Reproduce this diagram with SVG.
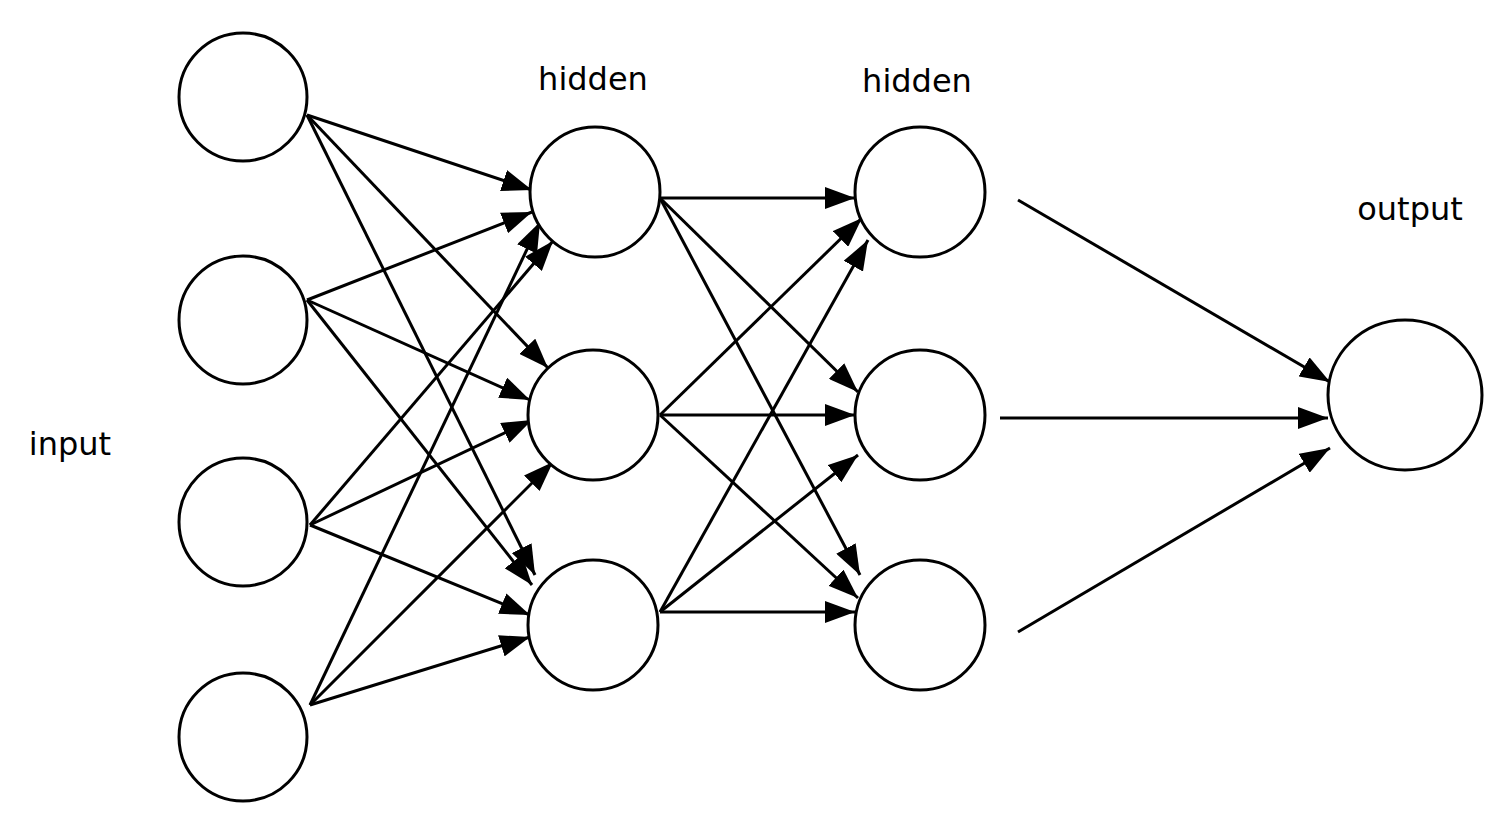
<svg xmlns="http://www.w3.org/2000/svg" width="1507" height="826" viewBox="0 0 1507 826">
<style>
.n{fill:#fff;stroke:#000;stroke-width:3}
.e{stroke:#000;stroke-width:3;fill:none;marker-end:url(#a)}
text{font-family:"DejaVu Sans",sans-serif;font-size:32px;fill:#000}
</style>
<defs><marker id="a" markerUnits="userSpaceOnUse" markerWidth="32" markerHeight="22" refX="30" refY="11" orient="auto"><path d="M0,0 L30,11 L0,22 z" fill="#000"/></marker></defs>
<rect width="1507" height="826" fill="#fff"/>
<g id="connectors">
<line class="e" x1="307" y1="115" x2="532" y2="190"/>
<line class="e" x1="307" y1="115" x2="548" y2="368"/>
<line class="e" x1="307" y1="115" x2="535" y2="575"/>
<line class="e" x1="307" y1="300" x2="532" y2="212"/>
<line class="e" x1="307" y1="300" x2="530" y2="400"/>
<line class="e" x1="307" y1="300" x2="532" y2="585"/>
<line class="e" x1="310" y1="525" x2="553" y2="241"/>
<line class="e" x1="310" y1="525" x2="532" y2="420"/>
<line class="e" x1="310" y1="525" x2="530" y2="615"/>
<line class="e" x1="310" y1="705" x2="540" y2="222"/>
<line class="e" x1="310" y1="705" x2="553" y2="462"/>
<line class="e" x1="310" y1="705" x2="530" y2="637"/>
<line class="e" x1="660" y1="198" x2="855" y2="198"/>
<line class="e" x1="660" y1="198" x2="858" y2="392"/>
<line class="e" x1="660" y1="198" x2="860" y2="575"/>
<line class="e" x1="660" y1="415" x2="862" y2="218"/>
<line class="e" x1="660" y1="415" x2="855" y2="415"/>
<line class="e" x1="660" y1="415" x2="858" y2="598"/>
<line class="e" x1="660" y1="612" x2="868" y2="240"/>
<line class="e" x1="660" y1="612" x2="858" y2="455"/>
<line class="e" x1="660" y1="612" x2="855" y2="612"/>
<line class="e" x1="1018" y1="200" x2="1330" y2="382"/>
<line class="e" x1="1000" y1="418" x2="1328" y2="418"/>
<line class="e" x1="1018" y1="632" x2="1330" y2="448"/>
</g>
<g id="i1"><circle class="n" cx="243" cy="97" r="64"/></g>
<g id="i2"><circle class="n" cx="243" cy="320" r="64"/></g>
<g id="i3"><circle class="n" cx="243" cy="522" r="64"/></g>
<g id="i4"><circle class="n" cx="243" cy="737" r="64"/></g>
<g id="h1"><circle class="n" cx="595" cy="192" r="65"/></g>
<g id="h2"><circle class="n" cx="593" cy="415" r="65"/></g>
<g id="h3"><circle class="n" cx="593" cy="625" r="65"/></g>
<g id="g1"><circle class="n" cx="920" cy="192" r="65"/></g>
<g id="g2"><circle class="n" cx="920" cy="415" r="65"/></g>
<g id="g3"><circle class="n" cx="920" cy="625" r="65"/></g>
<g id="o"><ellipse class="n" cx="1405" cy="395" rx="77" ry="75"/></g>
<text x="70" y="455" text-anchor="middle">input</text>
<text x="593" y="90" text-anchor="middle">hidden</text>
<text x="917" y="92" text-anchor="middle">hidden</text>
<text x="1410" y="220" text-anchor="middle">output</text>
</svg>
